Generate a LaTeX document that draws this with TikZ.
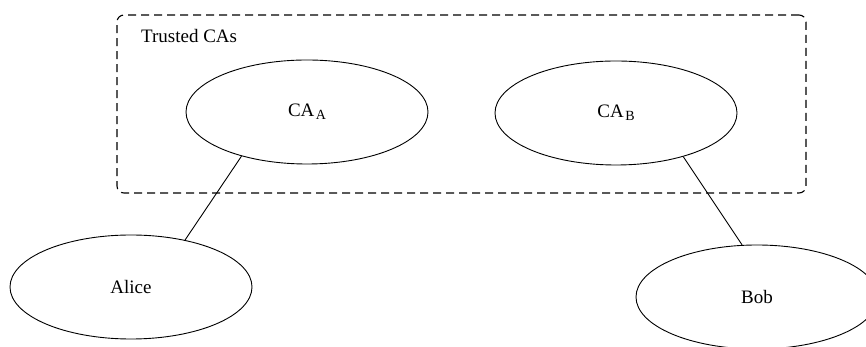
\documentclass[tikz,border=0pt]{standalone}
\usepackage{fontspec}
\setmainfont{Liberation Serif}
\usepackage{tikz}
\usetikzlibrary{
  shapes.geometric,
  positioning
}
\tikzset{
  party/.style={
    draw, ellipse, inner sep=0pt, minimum width=242pt, minimum height=104pt,
    line width=0.9pt, font=\fontsize{19}{23}\selectfont
  },
  trustzone/.style={
    draw, rounded corners=7pt, line width=1.1pt, dash pattern=on 8pt off 5pt,
    inner sep=0pt, minimum width=689pt, minimum height=178pt
  },
  zonetag/.style={font=\fontsize{19}{23}\selectfont, inner sep=0pt, anchor=west},
  link/.style={line width=0.9pt}
}
\newcommand{\casub}[1]{CA\kern1.5pt\raisebox{-3pt}{\fontsize{14}{16}\selectfont #1}}

\begin{document}
\begin{tikzpicture}[x=1pt, y=1pt]
  \clip (0,0) rectangle (866,347);
  \node[trustzone] (trusted) at (461.5,243) {};
  \node[zonetag] (trustedtag) at (141,311) {Trusted CAs};
  \node[party] (caA) at (307,235) {\casub{A}};
  \node[party] (caB) at (616,234) {\casub{B}};
  \node[party] (alice) at (131,60) {Alice};
  \node[party] (bob) at (757,50) {Bob};
  \draw[link] (caA.214) -- (alice.41);
  \draw[link] (caB.327) -- (bob.106);
\end{tikzpicture}
\end{document}
